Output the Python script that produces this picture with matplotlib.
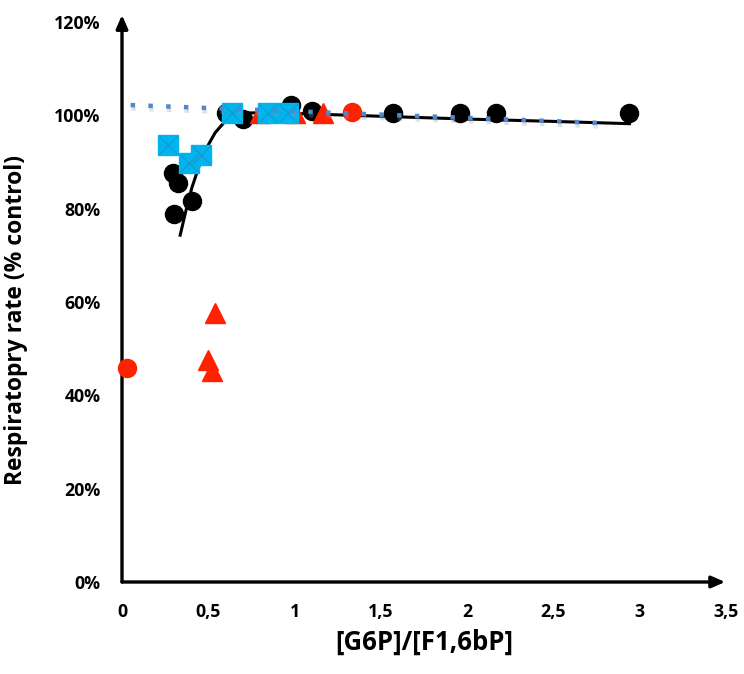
import matplotlib
matplotlib.use("Agg")
import matplotlib.pyplot as plt
import matplotlib.patheffects as pe
from matplotlib.ticker import FuncFormatter

plt.rcParams['font.family'] = ['Open Sans', 'DejaVu Sans']

# --- data ---
black_x = [0.295, 0.325, 0.405, 0.30, 0.60, 0.70, 0.98, 1.10, 1.57, 1.96, 2.17, 2.94]
black_y = [87.7, 85.5, 81.7, 78.9, 100.5, 99.2, 102.3, 101.0, 100.5, 100.5, 100.5, 100.5]

red_circle_x = [0.03, 1.33]
red_circle_y = [45.9, 100.7]

red_tri_x = [0.54, 0.50, 0.52, 0.80, 1.00, 1.165]
red_tri_y = [57.7, 47.6, 45.2, 100.5, 100.5, 100.5]

cyan_x = [0.265, 0.39, 0.46, 0.64, 0.845, 0.96]
cyan_y = [93.7, 89.8, 91.5, 100.5, 100.5, 100.5]

# black fitted curve
fit_x = [0.335, 0.37, 0.405, 0.45, 0.49, 0.54, 0.59, 0.65, 0.72, 0.85, 1.0, 1.5, 2.0, 2.5, 2.95]
fit_y = [74.0, 79.5, 84.5, 89.5, 93.0, 96.3, 98.4, 99.7, 100.5, 100.6, 100.4, 99.8, 99.2, 98.7, 98.2]

# blue dotted linear trend (endpoints)
trend_x = [0.05, 2.82]
trend_y = [102.2, 98.3]

x_ticks = [0, 0.5, 1, 1.5, 2, 2.5, 3, 3.5]
y_ticks = [0, 20, 40, 60, 80, 100, 120]

fig = plt.figure(figsize=(7.44, 6.74), dpi=100)
ax = fig.add_axes([122/744, 1 - 582/674, (726-122)/744, (582-22)/674])
ax.set_xlim(0, 3.5)
ax.set_ylim(0, 120)

for s in ax.spines.values():
    s.set_visible(False)

# axis arrows
ax.annotate('', xy=(3.495, 0), xytext=(0, 0), xycoords='data',
            arrowprops=dict(arrowstyle='-|>,head_length=0.8,head_width=0.35', lw=2.4, color='black',
                            shrinkA=0, shrinkB=0), annotation_clip=False)
ax.annotate('', xy=(0, 121.5), xytext=(0, 0), xycoords='data',
            arrowprops=dict(arrowstyle='-|>,head_length=0.8,head_width=0.35', lw=2.4, color='black',
                            shrinkA=0, shrinkB=0), annotation_clip=False)

ax.plot(fit_x, fit_y, color='black', lw=2.2, zorder=2, solid_capstyle='butt')

ax.plot(black_x, black_y, 'o', color='black', ms=13, mec='black', zorder=3, clip_on=False)
ax.plot(red_circle_x, red_circle_y, 'o', color='#FF2200', ms=13, mec='#FF2200', zorder=3, clip_on=False)
ax.plot(red_tri_x, red_tri_y, '^', color='#FF2200', ms=14, mec='#FF2200', zorder=3, clip_on=False)
ax.plot(cyan_x, cyan_y, 's', color='#00B4F0', ms=14, mec='#00B4F0', zorder=4, clip_on=False)
ax.plot(cyan_x, cyan_y, 'x', color='#1A95C8', ms=13, mew=0.8, zorder=4, clip_on=False)

ax.plot(trend_x, trend_y, color='#4F88CC', lw=3.2, dashes=(1, 3), zorder=5,
        path_effects=[pe.SimpleLineShadow(offset=(0.5, -2.5), shadow_color='#999999', alpha=0.3),
                      pe.Normal()])

ax.set_xticks(x_ticks)
ax.set_yticks(y_ticks)
ax.xaxis.set_major_formatter(FuncFormatter(lambda v, p: ('%g' % v).replace('.', ',')))
ax.yaxis.set_major_formatter(FuncFormatter(lambda v, p: '%d%%' % v))
ax.tick_params(axis='both', length=0, labelsize=12.8, colors='black')
ax.tick_params(axis='x', pad=15)
ax.tick_params(axis='y', pad=15.5)
for lab in ax.get_xticklabels() + ax.get_yticklabels():
    lab.set_fontweight('bold')

ax.set_xlabel('[G6P]/[F1,6bP]', fontsize=18.5, fontweight='bold', labelpad=6)
ax.set_ylabel('Respiratopry rate (% control)', fontsize=16.5, fontweight='bold')
ax.yaxis.set_label_coords(-122/604 + 28/604, 0.468)

fig.savefig('out.png', dpi=100)
